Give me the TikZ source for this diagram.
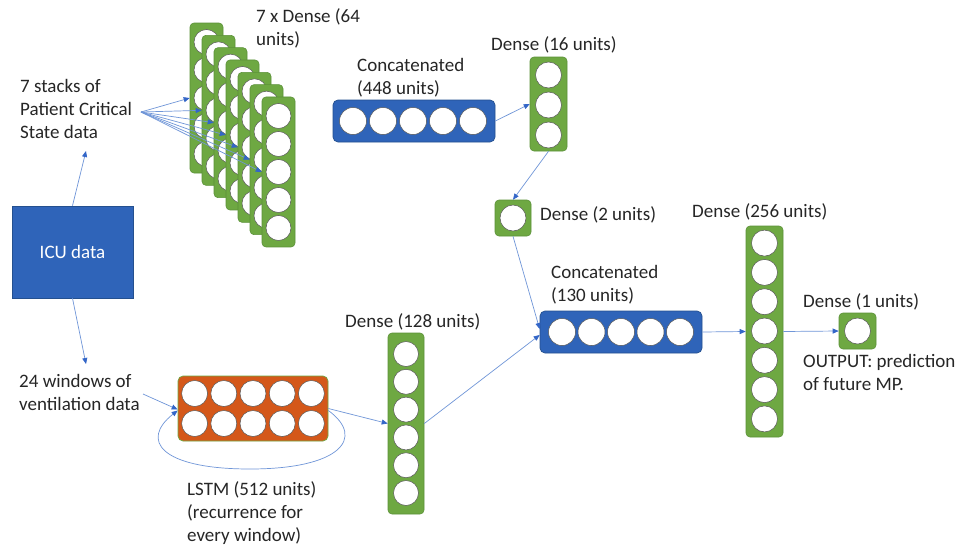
\documentclass[tikz,border=0pt]{standalone}
\usepackage{fontspec}
\setmainfont{Carlito}
\usetikzlibrary{arrows.meta,backgrounds,calc}
\definecolor{layergreen}{HTML}{6EA842}
\definecolor{layergreenedge}{HTML}{5B9138}
\definecolor{concatblue}{HTML}{2F64B9}
\definecolor{concatblueedge}{HTML}{24508F}
\definecolor{lstmorange}{HTML}{D4581A}
\definecolor{linkblue}{HTML}{7096D8}
\definecolor{tipblue}{HTML}{3366C8}
\definecolor{unitedge}{HTML}{555555}
\definecolor{labeltext}{HTML}{262626}

\begin{document}
\begin{tikzpicture}[x=1pt,y=-1pt,
  every node/.style={font=\fontsize{19}{23}\selectfont},
  % multi-line labels are placed by the baseline of their last line
  txt/.style={anchor=base west, inner sep=0, align=left, text=labeltext},
  unit/.style={circle, fill=white, draw=unitedge, line width=0.5pt, minimum size=25pt, inner sep=0},
  greenbox/.style={rectangle, rounded corners=4pt, fill=layergreen, draw=layergreenedge, line width=0.6pt, inner sep=0},
  bluebox/.style={rectangle, rounded corners=5pt, fill=concatblue, draw=concatblueedge, line width=0.7pt, inner sep=0},
  lstmbox/.style={rectangle, rounded corners=5pt, fill=lstmorange, draw=layergreen, line width=0.7pt, inner sep=0},
  conn/.style={draw=linkblue, line width=0.7pt, -{Triangle[length=6pt,width=5pt,color=tipblue]}},
]
\useasboundingbox[fill=white] (0,0) rectangle (961,544);

% input data
\node[rectangle, fill=concatblue, draw=concatblueedge, line width=0.6pt,
      minimum width=121pt, minimum height=92pt, text=white] (icu) at (72.5,252) {ICU data};
\node[txt] (stacks) at (20,138) {7 stacks of\\Patient Critical\\State data};
\node[txt] (windows) at (19,410) {24 windows of\\ventilation data};
\coordinate (stk-in) at (86,151);
\coordinate (stk-out) at (141,112);
\coordinate (win-in) at (86,364);
\coordinate (win-out) at (143,394);

% seven stacked dense layers
\foreach \k in {0,...,6} {
  \pgfmathsetmacro\cx{206.5+12*\k}
  \pgfmathsetmacro\cy{98+12.33*\k}
  \node[greenbox, minimum width=33pt, minimum height=150pt] (s\k) at (\cx,\cy) {};
  \foreach \i in {-2,...,2}
    \node[unit] (s\k-u\i) at ({\cx},{\cy+28*(\i)}) {};
}
\node[txt] (lbl-s64) at (256,45) {7 x Dense (64\\units)};

% concatenated (448 units)
\node[bluebox, minimum width=162pt, minimum height=42pt] (c448) at (414,121) {};
\foreach \i in {-2,...,2}
  \node[unit, minimum size=27pt] (c448-u\i) at ({413+30*(\i)},121) {};
\node[txt] (lbl-c448) at (357,94) {Concatenated\\(448 units)};

% dense (16 units)
\node[greenbox, minimum width=37pt, minimum height=94pt] (d16) at (548.5,104) {};
\foreach \i in {-1,0,1}
  \node[unit, minimum size=26pt] (d16-u\i) at (548.5,{105+30*(\i)}) {};
\node[txt] (lbl-d16) at (491,50) {Dense (16 units)};

% dense (2 units)
\node[greenbox, minimum width=36pt, minimum height=36pt] (d2) at (513,218) {};
\node[unit, minimum size=26pt] (d2-u) at (513,218) {};
\node[txt] (lbl-d2) at (540,220) {Dense (2 units)};

% LSTM (512 units)
\node[lstmbox, minimum width=150pt, minimum height=65pt] (lstm) at (253,408.5) {};
\foreach \i in {-2,...,2} {
  \node[unit, minimum size=26pt] (lstm-a\i) at ({253+29.2*(\i)},393.5) {};
  \node[unit, minimum size=26pt] (lstm-b\i) at ({253+29.2*(\i)},423.5) {};
}
\node[txt] (lbl-lstm) at (187,541) {LSTM (512 units)\\(recurrence for\\every window)};

% dense (128 units)
\node[greenbox, minimum width=36pt, minimum height=181pt] (d128) at (406,423.5) {};
\foreach \i in {0,...,5}
  \node[unit, minimum size=25pt] (d128-u\i) at (406,{354+27.8*\i}) {};
\node[txt] (lbl-d128) at (345,327) {Dense (128 units)};

% concatenated (130 units)
\node[bluebox, minimum width=162pt, minimum height=42pt] (c130) at (621,332) {};
\foreach \i in {-2,...,2}
  \node[unit, minimum size=27pt] (c130-u\i) at ({621+29.5*(\i)},332) {};
\node[txt] (lbl-c130) at (551,301) {Concatenated\\(130 units)};

% dense (256 units)
\node[greenbox, minimum width=37pt, minimum height=211pt] (d256) at (764.5,331.5) {};
\foreach \i in {-3,...,3}
  \node[unit, minimum size=26pt] (d256-u\i) at (764.5,{331+29.3*(\i)}) {};
\node[txt] (lbl-d256) at (692,217) {Dense (256 units)};

% dense (1 units) / output
\node[greenbox, minimum width=37pt, minimum height=36pt] (d1) at (857.5,331) {};
\node[unit, minimum size=26pt] (d1-u) at (857.5,331) {};
\node[txt] (lbl-d1) at (803,307) {Dense (1 units)};
\node[txt] (lbl-out) at (803,390) {OUTPUT: prediction\\of future MP.};

% connections
\begin{scope}[on background layer]
  \foreach \k in {0,...,6}
    \draw[conn] (s\k.east) -- (c448.west);
\end{scope}
\draw[conn] (icu.north) -- (stk-in);
\draw[conn] (icu.south) -- (win-in);
\foreach \k in {0,...,6}
  \draw[conn] (stk-out) -- (s\k.west);
\draw[conn] (c448.east) -- (d16.west);
\draw[conn] (d16.south) -- (d2.north);
\draw[conn] (d2.south) -- ([yshift=3pt]c130.west);
\draw[conn] (win-out) -- ([yshift=-1pt]lstm.west);
\draw[conn] ([yshift=-2pt]lstm.east) .. controls (366,438) and (340,469) .. (250,469)
            .. controls (160,469) and (140,440) .. ([yshift=-2pt]lstm.west);
\draw[conn] (lstm.east) -- (d128.west);
\draw[conn] (d128.east) -- ([yshift=-3pt]c130.west);
\draw[conn] (c130.east) -- (d256.west);
\draw[conn] (d256.east) -- (d1.west);
\end{tikzpicture}
\end{document}
